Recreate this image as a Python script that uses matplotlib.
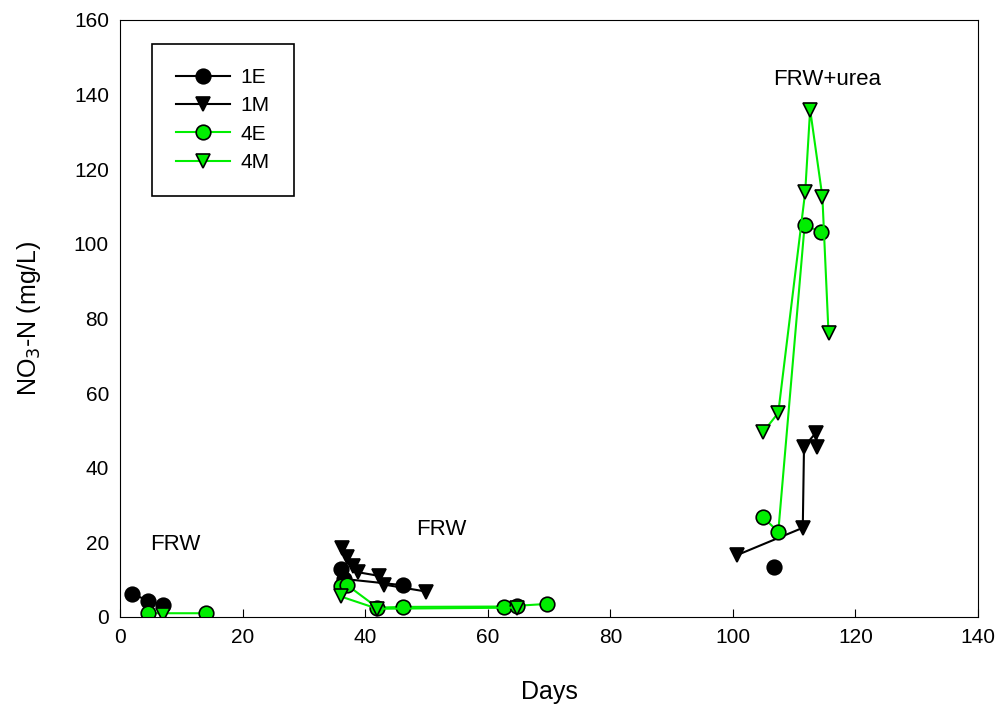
import matplotlib.pyplot as plt
import numpy as np

plt.rcParams['font.family'] = ['Liberation Sans', 'DejaVu Sans']

nan = np.nan
GREEN = '#00ee00'

# days / NO3-N values, nan breaks the line between the three runs
days_1e = [2.0, 4.5, 7.0, nan, 36.0, 36.5, 46.2, nan, 106.7]
vals_1e = [6.2, 4.4, 3.2, nan, 12.8, 10.2, 8.5, nan, 13.4]

days_1m = [36.2, 37.0, 38.0, 38.8, 42.3, 43.0, 50.0, nan, 100.7, 111.4, 111.6, 113.5, 113.8]
vals_1m = [18.5, 16.0, 13.7, 12.0, 11.0, 8.7, 6.8, nan, 16.6, 23.9, 45.6, 49.3, 45.6]

days_4e = [4.5, 14.0, nan, 36.0, 37.0, 42.0, 46.2, 62.7, 64.8, 69.7, nan, 104.9, 107.4, 111.7, 114.4]
vals_4e = [1.0, 1.0, nan, 8.4, 8.6, 2.5, 2.7, 2.8, 3.0, 3.5, nan, 26.8, 22.8, 105.0, 103.2]

days_4m = [7.0, nan, 36.0, 42.0, 64.8, nan, 104.9, 107.4, 111.8, 112.6, 114.6, 115.6]
vals_4m = [0.6, nan, 5.5, 2.2, 2.5, nan, 49.5, 54.7, 114.0, 136.0, 112.6, 76.1]

notes = [(9.0, 19.5, 'FRW'), (52.5, 23.5, 'FRW'), (115.3, 144.0, 'FRW+urea')]


def main():
    fig = plt.figure(figsize=(9.97, 7.09), dpi=100)
    ax = fig.add_axes([0.1204, 0.1298, 0.8606, 0.842])

    mk = dict(markeredgecolor='black', markeredgewidth=1.2, markersize=10.5, linewidth=1.5)
    ax.plot(days_1e, vals_1e, '-o', color='black', markerfacecolor='black', label='1E', **mk)
    ax.plot(days_1m, vals_1m, '-v', color='black', markerfacecolor='black', label='1M', **mk)
    ax.plot(days_4e, vals_4e, '-o', color=GREEN, markerfacecolor=GREEN, label='4E', **mk)
    ax.plot(days_4m, vals_4m, '-v', color=GREEN, markerfacecolor=GREEN, label='4M', **mk)

    for x, y, s in notes:
        ax.text(x, y, s, fontsize=16, ha='center', va='center')

    ax.set_xlim(0, 140)
    ax.set_ylim(0, 160)
    ax.set_xticks(np.arange(0, 141, 20))
    ax.set_yticks(np.arange(0, 161, 20))
    ax.tick_params(axis='x', direction='in', length=6, labelsize=15, pad=8)
    ax.tick_params(axis='y', direction='in', length=0, labelsize=15, pad=8)
    ax.set_xlabel('Days', fontsize=18, labelpad=24)
    ax.set_ylabel(r'NO$_3$-N (mg/L)', fontsize=18, labelpad=22)

    leg = ax.legend(loc='upper left', bbox_to_anchor=(0.0373, 0.96), borderaxespad=0,
                    fontsize=15, handlelength=2.6, labelspacing=0.45, borderpad=1.15,
                    handletextpad=0.5, fancybox=False, edgecolor='black', framealpha=1)
    leg.get_frame().set_linewidth(1.2)

    fig.savefig('out.png', dpi=100)


if __name__ == '__main__':
    main()
